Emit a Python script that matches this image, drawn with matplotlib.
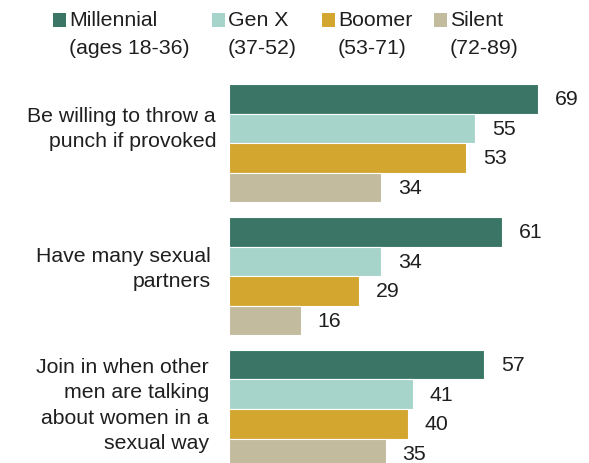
import matplotlib.pyplot as plt
from matplotlib.patches import Rectangle

plt.rcParams['font.family'] = ['Liberation Sans', 'DejaVu Sans']

generations = ['Millennial', 'Gen X', 'Boomer', 'Silent']
age_ranges = ['(ages 18-36)', '(37-52)', '(53-71)', '(72-89)']
colors = ['#3A7565', '#A6D4CA', '#D3A62F', '#C3BB9E']

behaviors = ['Be willing to throw a\npunch if provoked',
             'Have many sexual\npartners',
             'Join in when other\nmen are talking\nabout women in a\nsexual way']
values = {
    'Millennial': [69, 61, 57],
    'Gen X': [55, 34, 41],
    'Boomer': [53, 29, 40],
    'Silent': [34, 16, 35],
}

W, H = 589, 463
FS = 15.3
TXT = '#1f1f1f'
fig = plt.figure(figsize=(W / 100, H / 100), dpi=100)
ax = fig.add_axes([229 / W, 0, 1 - 229 / W, (463 - 84) / H])

group_step = 4.49
for j, gen in enumerate(generations):
    ys = [i * group_step + j for i in range(len(behaviors))]
    ax.barh(ys, values[gen], height=1.0, color=colors[j],
            edgecolor='white', linewidth=0.8)
    for y, v in zip(ys, values[gen]):
        ax.text(v + 3.7, y + 0.03, str(v), va='center', ha='left',
                fontsize=FS, color=TXT)

ax.set_xlim(0, (W - 229) / 4.478)
ax.set_ylim(-0.5 + (463 - 84) / 29.6, -0.5)
ax.axis('off')

# category labels to the left of each group
label_y = [1.02, 1.26, 1.38]
label_x = [-2.9, -4.1, -4.5]
for i, lab in enumerate(behaviors):
    ax.text(label_x[i], i * group_step + label_y[i], lab, ha='right',
            va='center', fontsize=FS, color=TXT, linespacing=1.42)

# legend row across the top
leg_x = [53, 212, 322, 434]
for x, gen, ages, c in zip(leg_x, generations, age_ranges, colors):
    fig.add_artist(Rectangle((x / W, 1 - 27 / H), 13 / W, 14 / H,
                             transform=fig.transFigure, color=c, lw=0))
    fig.text((x + 16) / W, 1 - 21 / H, gen, ha='left', va='center',
             fontsize=FS, color=TXT)
    fig.text((x + 16) / W, 1 - 48 / H, ages, ha='left', va='center',
             fontsize=FS, color=TXT)

fig.savefig('out.png', dpi=100)
